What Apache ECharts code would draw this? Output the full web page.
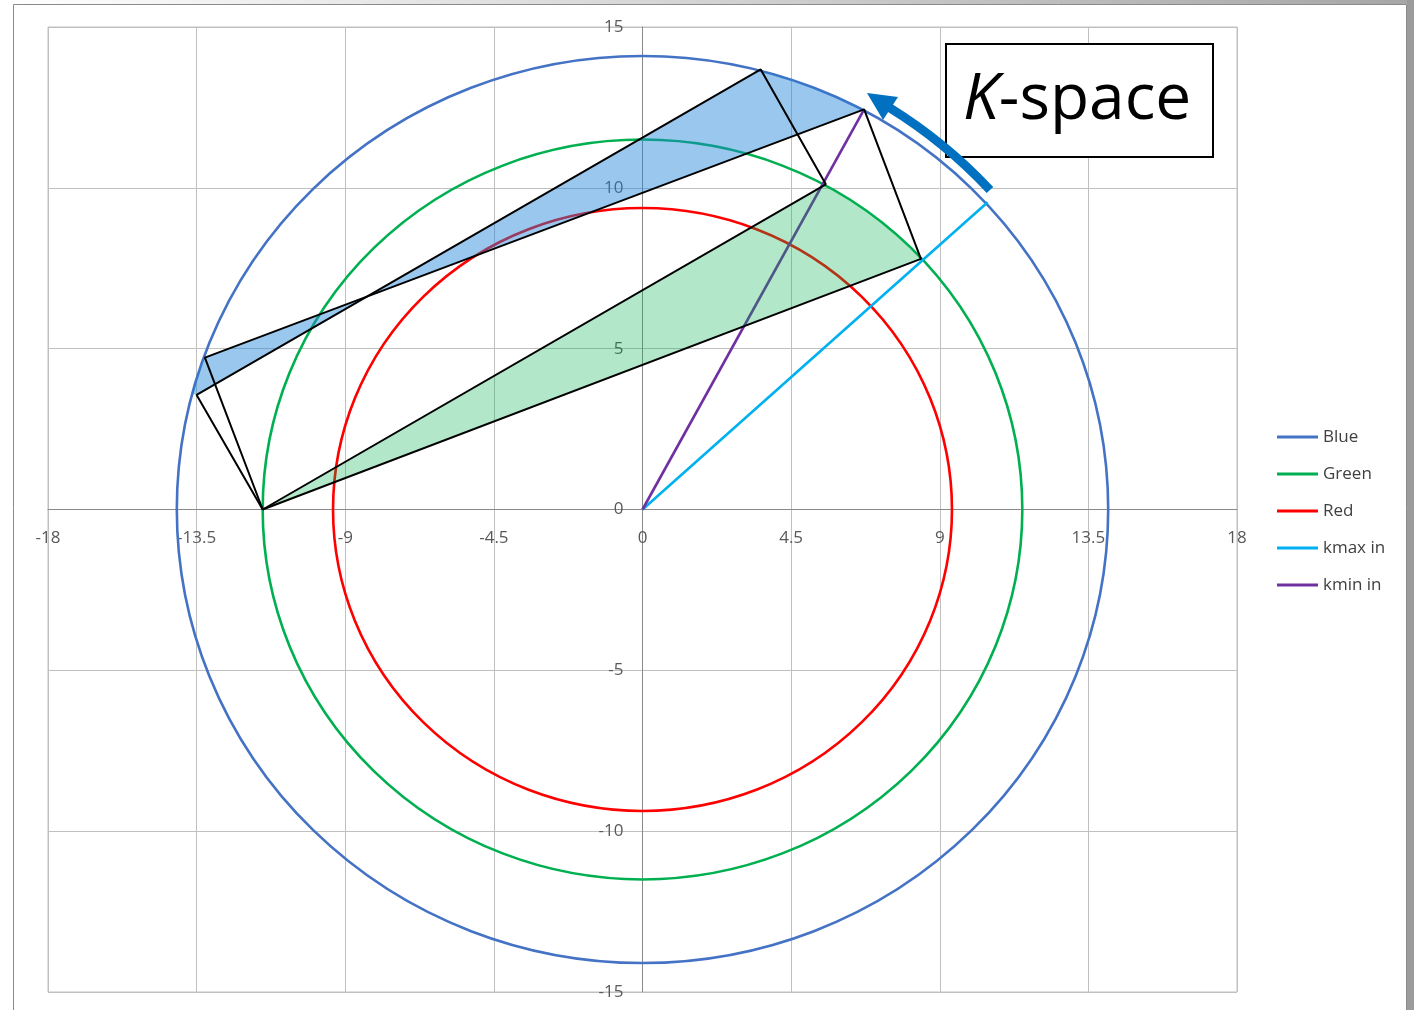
<!DOCTYPE html>
<html><head><meta charset="utf-8">
<script src="https://cdn.jsdelivr.net/npm/echarts@6/dist/echarts.min.js"></script>
<style>html,body{margin:0;padding:0;background:#fff}#c{width:1414px;height:1010px}</style>
</head><body><div id="c"></div>
<script>
// ---- data ----
const xTickLabels = ['-18','-13.5','-9','-4.5','0','4.5','9','13.5','18'];
const yTickLabels = ['-15','-10','-5','0','5','10','15'];
const legendNames = ['Blue','Green','Red','kmax in','kmin in'];
const circleNames = ['Blue','Green','Red'];
const circleRadii = [14.1, 11.5, 9.37];
const kmaxIn = [[0,0],[10.45,9.55]];
const kminIn = [[0,0],[6.71,12.44]];
// construction vertices
const ptA = [-11.5, 0];
const ptB = [5.55, 10.11];
const ptC = [8.43, 7.79];
const ptD = [6.71, 12.44];
const ptE = [3.58, 13.68];
const ptF = [-13.25, 4.72];
const ptG = [-13.5, 3.56];
const parallelogram1 = [ptA, ptB, ptE, ptG, ptA];
const parallelogram2 = [ptA, ptC, ptD, ptF, ptA];

const colors = {Blue:'#4472C4', Green:'#00B050', Red:'#FF0000', 'kmax in':'#00B0F0', 'kmin in':'#7030A0'};
const FONT = "'Open Sans', 'Noto Sans', sans-serif";

function lineIntersect(p1,p2,p3,p4){
  const d = (p1[0]-p2[0])*(p3[1]-p4[1]) - (p1[1]-p2[1])*(p3[0]-p4[0]);
  const t = ((p1[0]-p3[0])*(p3[1]-p4[1]) - (p1[1]-p3[1])*(p3[0]-p4[0]))/d;
  return [p1[0]+t*(p2[0]-p1[0]), p1[1]+t*(p2[1]-p1[1])];
}
function arcPts(R, from, to, n){
  const a0=Math.atan2(from[1],from[0]), a1=Math.atan2(to[1],to[0]);
  const pts=[];
  for(let i=0;i<=n;i++){const a=a0+(a1-a0)*i/n; pts.push([R*Math.cos(a),R*Math.sin(a)]);}
  return pts;
}
const ptX = lineIntersect(ptG, ptE, ptF, ptD);
const greenFill = [ptA, ptB].concat(arcPts(circleRadii[1], ptB, ptC, 24), [ptC]);
const blueFillR = [ptX, ptE].concat(arcPts(circleRadii[0], ptE, ptD, 24), [ptD]);
const blueFillL = [ptX, ptF].concat(arcPts(circleRadii[0], ptF, ptG, 8), [ptG]);

function circleSeries(name, r){
  return {
    name, type:'custom', color: colors[name], z:2,
    data:[[0,0,r]],
    renderItem(params, api){
      const c = api.coord([api.value(0), api.value(1)]);
      const s = api.size([api.value(2), api.value(2)]);
      return {type:'circle', shape:{cx:0, cy:0, r:s[0]}, x:c[0], y:c[1], scaleY:s[1]/s[0],
        style:{fill:null, stroke:colors[name], lineWidth:2.6, strokeNoScale:true}};
    }
  };
}
function fillSeries(pts, fill){
  return {
    type:'custom', z:5, silent:true, data:[[0,0]],
    renderItem(params, api){
      return {type:'polygon', shape:{points: pts.map(p=>api.coord(p))}, style:{fill, stroke:null}};
    }
  };
}
function blackLine(pts){
  return {type:'line', data:pts, symbol:'none', z:6, silent:true, color:'#000',
    lineStyle:{color:'#000', width:2}};
}

const series = [];
circleNames.forEach((n,i)=>series.push(circleSeries(n, circleRadii[i])));
series.push({name:'kmax in', type:'line', data:kmaxIn, symbol:'none', z:3, color:colors['kmax in'], lineStyle:{color:colors['kmax in'], width:2.6}});
series.push({name:'kmin in', type:'line', data:kminIn, symbol:'none', z:3, color:colors['kmin in'], lineStyle:{color:colors['kmin in'], width:2.6}});
series.push(fillSeries(greenFill, 'rgba(0,176,80,0.30)'));
series.push(fillSeries(blueFillR, 'rgba(30,130,215,0.45)'));
series.push(fillSeries(blueFillL, 'rgba(30,130,215,0.45)'));
series.push(blackLine(parallelogram1));
series.push(blackLine(parallelogram2));

const GL=48, GT=27, GR=177, GB=18, W=1414, H=1010;
const gw = W-GL-GR, gh = H-GT-GB;
const xMin=-18, xMax=18, yMin=-15, yMax=15;
// place axes through the origin
const yAxisOffset = -gw*(0 - xMin)/(xMax - xMin);
const xAxisOffset = -gh*(0 - yMin)/(yMax - yMin);

const chart = echarts.init(document.getElementById('c'));
chart.setOption({
  animation:false,
  backgroundColor:'#fff',
  grid:{left:GL, top:GT, right:GR, bottom:GB, show:true, borderColor:'#c0c0c0', borderWidth:1, containLabel:false, outerBoundsMode:'none'},
  xAxis:{type:'value', min:xMin, max:xMax, interval:4.5, position:'bottom', offset:xAxisOffset,
    axisLine:{onZero:false, lineStyle:{color:'#898989', width:1}}, axisTick:{show:false},
    axisLabel:{color:'#595959', fontSize:17, fontFamily:FONT, margin:20, showMinLabel:true, showMaxLabel:true,
      formatter:v=>{const i=Math.round((v-xMin)/4.5); return xTickLabels[i]!==undefined?xTickLabels[i]:String(v);}},
    splitLine:{show:true, lineStyle:{color:'#c0c0c0', width:1}}},
  yAxis:{type:'value', min:yMin, max:yMax, interval:5, position:'left', offset:yAxisOffset,
    axisLine:{onZero:false, lineStyle:{color:'#898989', width:1}}, axisTick:{show:false},
    axisLabel:{color:'#595959', fontSize:17, fontFamily:FONT, margin:19, showMinLabel:true, showMaxLabel:true,
      formatter:v=>{const i=Math.round((v-yMin)/5); return yTickLabels[i]!==undefined?yTickLabels[i]:String(v);}},
    splitLine:{show:true, lineStyle:{color:'#c0c0c0', width:1}}},
  legend:{orient:'vertical', left:1277, top:427, padding:0, itemWidth:41, itemHeight:3, itemGap:17, icon:'rect',
    data:legendNames, selectedMode:false,
    textStyle:{fontSize:17, color:'#404040', fontFamily:FONT, lineHeight:20}},
  graphic:[
    {type:'rect', z:100, silent:true, shape:{x:0,y:0,width:1414,height:4}, style:{fill:new echarts.graphic.LinearGradient(0,0,1,0,[{offset:0,color:'#ffffff'},{offset:1,color:'#a6a6a6'}])}},
    {type:'rect', z:100, silent:true, shape:{x:1407,y:0,width:7,height:1010}, style:{fill:'#9c9c9c'}},
    {type:'rect', z:100, silent:true, shape:{x:13.5,y:4.5,width:1393,height:1010}, style:{fill:null, stroke:'#8a8a8a', lineWidth:1}},
    {type:'rect', z:100, silent:true, shape:{x:946,y:44,width:267,height:113}, style:{fill:'#fff', stroke:'#000', lineWidth:2}},
    {type:'text', z:101, silent:true, x:963, y:101, style:{text:'{k|K}{s|-space}', verticalAlign:'middle',
      rich:{k:{fontStyle:'italic', fontSize:64, fontFamily:FONT, fill:'#000'}, s:{fontSize:64, fontFamily:FONT, fill:'#000'}}}},
    {type:'bezierCurve', z:100, silent:true, shape:{x1:990,y1:190,x2:890,y2:108,cpx1:945,cpy1:142}, style:{stroke:'#0070C0', lineWidth:9, fill:null}},
    {type:'polygon', z:100, silent:true, shape:{points:[[867,93],[898,97],[883,120]]}, style:{fill:'#0070C0'}}
  ],
  series
});
</script></body></html>
